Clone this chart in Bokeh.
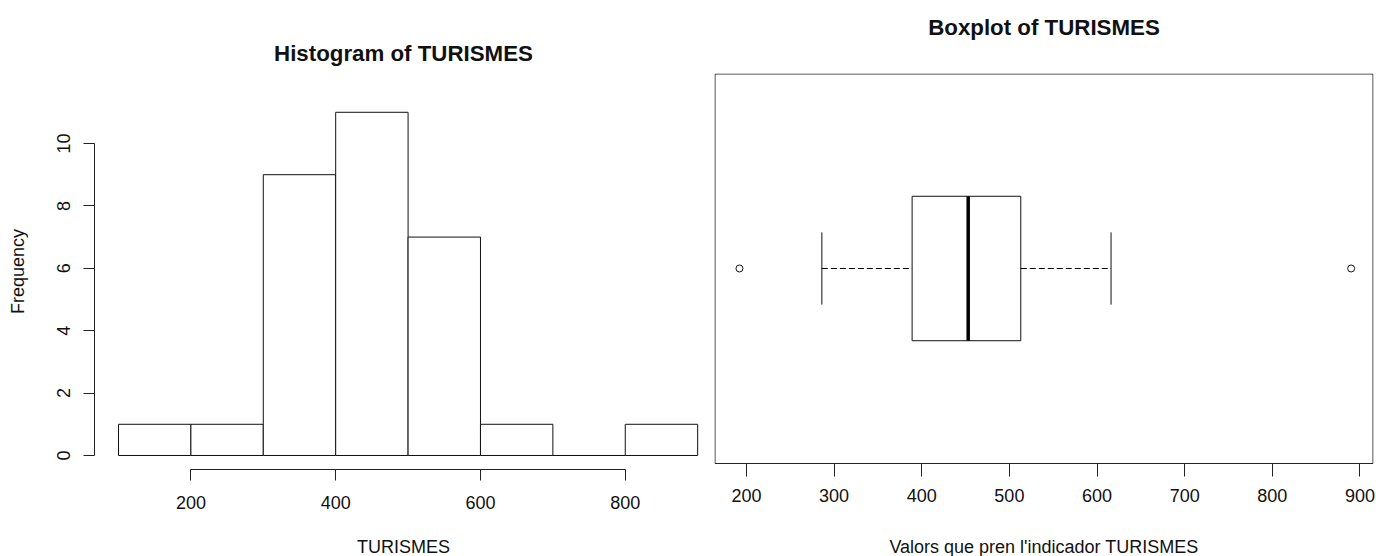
from bokeh.plotting import figure
from bokeh.layouts import row
from bokeh.models import Range1d, FixedTicker, ColumnDataSource, LinearAxis
from bokeh.embed import file_html
from bokeh.resources import INLINE

# Histogram of TURISMES
bin_edges = [100, 200, 300, 400, 500, 600, 700, 800, 900]
bin_counts = [1, 1, 9, 11, 7, 1, 0, 1]
hist_xticks = [200, 400, 600, 800]
hist_yticks = [0, 2, 4, 6, 8, 10]

# Boxplot of TURISMES (five-number summary + outliers)
whisker_low = 286
q1 = 389
median = 453
q3 = 513
whisker_high = 616
outliers = [192, 890]
box_xticks = [200, 300, 400, 500, 600, 700, 800, 900]

FONT = "Liberation Sans"
BASE = "18px"
TITLE = "22.3px"
INK = "#111111"

# both panels share the same vertical frame band (73..469 px)
FRAME_TOP = 73
FRAME_H = 396
FRAME_BOTTOM_PAD = 556 - FRAME_TOP - FRAME_H


def style_axis(ax, tick_in=0, tick_out=11, standoff=12, label_standoff=24):
    ax.major_tick_in = tick_in
    ax.major_tick_out = tick_out
    ax.minor_tick_in = 0
    ax.minor_tick_out = 0
    ax.axis_line_color = "#222222"
    ax.major_tick_line_color = "#222222"
    ax.major_label_text_font = FONT
    ax.major_label_text_font_size = BASE
    ax.major_label_text_color = INK
    ax.major_label_standoff = standoff
    ax.axis_label_text_font = FONT
    ax.axis_label_text_font_size = BASE
    ax.axis_label_text_font_style = "normal"
    ax.axis_label_text_color = INK
    ax.axis_label_standoff = label_standoff


def add_title(p, text, gap):
    """Bold main title carried by a bare axis above the frame."""
    t = LinearAxis(ticker=FixedTicker(ticks=[]), axis_label=text)
    t.axis_line_color = None
    t.major_tick_in = 0
    t.major_tick_out = 0
    t.minor_tick_in = 0
    t.minor_tick_out = 0
    t.major_label_standoff = 0
    t.axis_label_standoff = gap
    t.axis_label_text_font = FONT
    t.axis_label_text_font_size = TITLE
    t.axis_label_text_font_style = "bold"
    t.axis_label_text_color = INK
    p.add_layout(t, "above")


# ---------------- left panel: histogram ----------------
# 31.2 px per count, 0 sits 14 px above the frame bottom
hist_ppu = 31.2
hist_y0 = -0.449
hist_y1 = hist_y0 + FRAME_H / hist_ppu
hist_x0, hist_x1 = 66.85, 920.5

hist = figure(
    frame_width=618, frame_height=FRAME_H,
    min_border_left=94, min_border_right=0,
    min_border_top=FRAME_TOP, min_border_bottom=FRAME_BOTTOM_PAD,
    x_range=Range1d(hist_x0, hist_x1), y_range=Range1d(hist_y0, hist_y1),
    output_backend="svg", toolbar_location=None,
)
hist.outline_line_color = None
hist.xgrid.visible = False
hist.ygrid.visible = False
hist.background_fill_color = "white"
hist.border_fill_color = "white"

hist_src = ColumnDataSource(dict(
    left=bin_edges[:-1], right=bin_edges[1:], top=bin_counts, bottom=[0] * len(bin_counts)
))
hist.quad(left="left", right="right", top="top", bottom="bottom", source=hist_src,
          fill_color="white", line_color=INK, line_width=1)

xa = hist.xaxis[0]
style_axis(xa, standoff=15, label_standoff=25)
xa.ticker = FixedTicker(ticks=hist_xticks)
xa.bounds = (hist_xticks[0], hist_xticks[-1])
xa.axis_label = "TURISMES"

ya = hist.yaxis[0]
style_axis(ya, standoff=13, label_standoff=27)
ya.ticker = FixedTicker(ticks=hist_yticks)
ya.bounds = (hist_yticks[0], hist_yticks[-1])
ya.major_label_orientation = "vertical"
ya.axis_label = "Frequency"

add_title(hist, "Histogram of TURISMES", 8)

# ---------------- right panel: boxplot ----------------
# 361.1 px per unit on y; the drawn box frame ends 6 px above the frame bottom
box_px = 361.1
box_y0 = 0.46 - 6 / box_px
box_y1 = 1.54
box_x0, box_x1 = 163.5, 915.5
box_xpx = 659 / (box_x1 - box_x0)

box = figure(
    frame_width=659, frame_height=FRAME_H,
    min_border_left=2, min_border_right=3,
    min_border_top=FRAME_TOP, min_border_bottom=FRAME_BOTTOM_PAD,
    x_range=Range1d(box_x0, box_x1), y_range=Range1d(box_y0, box_y1),
    output_backend="svg", toolbar_location=None, y_axis_location=None,
)
box.outline_line_color = None
box.xgrid.visible = False
box.ygrid.visible = False
box.background_fill_color = "white"
box.border_fill_color = "white"

# plot box around the boxplot
half = 0.5
box.quad(left=[box_x0 + half / box_xpx], right=[box_x1 - half / box_xpx],
         bottom=[0.46], top=[box_y1 - half / box_px],
         fill_color=None, line_color="#222222", line_width=1)

# box body
box.quad(left=[q1], right=[q3], bottom=[0.8], top=[1.2],
         fill_color="white", line_color=INK, line_width=1)
# median
box.segment(x0=[median], x1=[median], y0=[0.8], y1=[1.2], line_color="black", line_width=3.5)
# whiskers
box.segment(x0=[whisker_low, q3], x1=[q1, whisker_high], y0=[1.0, 1.0], y1=[1.0, 1.0],
            line_color="black", line_width=1.2, line_dash="6 3")
# staples
box.segment(x0=[whisker_low, whisker_high], x1=[whisker_low, whisker_high],
            y0=[0.9, 0.9], y1=[1.1, 1.1], line_color=INK, line_width=1)
# outliers
box.scatter(x=outliers, y=[1.0] * len(outliers), marker="circle", size=7,
            fill_color="white", line_color=INK, line_width=1)

bx = box.xaxis[0]
style_axis(bx, tick_in=6, tick_out=7, standoff=12, label_standoff=32)
bx.axis_line_color = None
bx.ticker = FixedTicker(ticks=box_xticks)
bx.axis_label = "Valors que pren l'indicador TURISMES"

add_title(box, "Boxplot of TURISMES", 34)

layout = row(hist, box, spacing=0)

with open("out.html", "w") as f:
    f.write(file_html(layout, INLINE, title="TURISMES"))
